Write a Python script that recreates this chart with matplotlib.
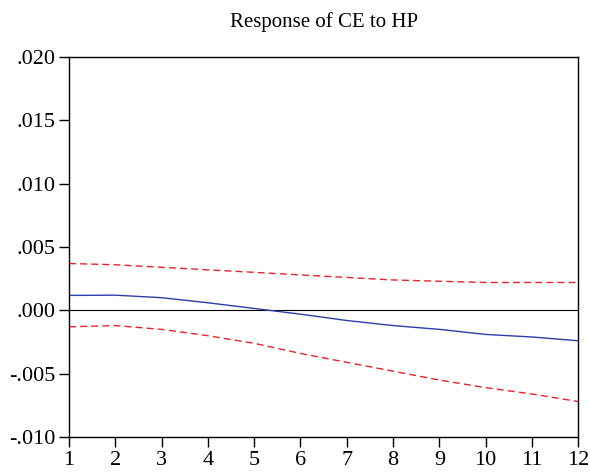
import numpy as np
import matplotlib
matplotlib.use("Agg")
from matplotlib import pyplot as plt

# impulse response data
periods = np.arange(1, 13)
response = [0.00118, 0.0012, 0.0010, 0.0006, 0.00015, -0.0003, -0.0008, -0.0012, -0.0015, -0.0019, -0.0021, -0.0024]
upper = [0.0037, 0.0036, 0.0034, 0.0032, 0.0030, 0.0028, 0.0026, 0.0024, 0.0023, 0.0022, 0.0022, 0.0022]
lower = [-0.0013, -0.0012, -0.0015, -0.0020, -0.0026, -0.0034, -0.0041, -0.0048, -0.0055, -0.0061, -0.0066, -0.0072]
yticks = [-0.010, -0.005, 0.000, 0.005, 0.010, 0.015, 0.020]
ylabels = ['-.010', '-.005', '.000', '.005', '.010', '.015', '.020']

plt.rcParams['font.family'] = ['Liberation Serif', 'DejaVu Serif']

fig = plt.figure(figsize=(5.9, 4.73), dpi=100)
ax = fig.add_axes([0.117, 0.076, 0.863, 0.8035])

ax.axhline(0, color='black', lw=0.8)
ax.plot(periods, response, color='#2a3fa8', lw=1.0)
ax.plot(periods, upper, color='#e8242b', lw=1.0, ls=(0, (5, 3)))
ax.plot(periods, lower, color='#e8242b', lw=1.0, ls=(0, (5, 3)))

ax.set_xlim(1, 12)
ax.set_ylim(-0.010, 0.020)
ax.set_xticks(periods)
ax.set_yticks(yticks)
ax.set_yticklabels(ylabels)
ax.tick_params(direction='out', length=7, width=1, labelsize=16)
ax.tick_params(axis='y', pad=3)
ax.tick_params(axis='x', pad=3)
for s in ax.spines.values():
    s.set_linewidth(1.0)

fig.text(0.55, 0.953, 'Response of CE to HP', ha='center', va='center', fontsize=15)

fig.savefig('out.png', dpi=100)
